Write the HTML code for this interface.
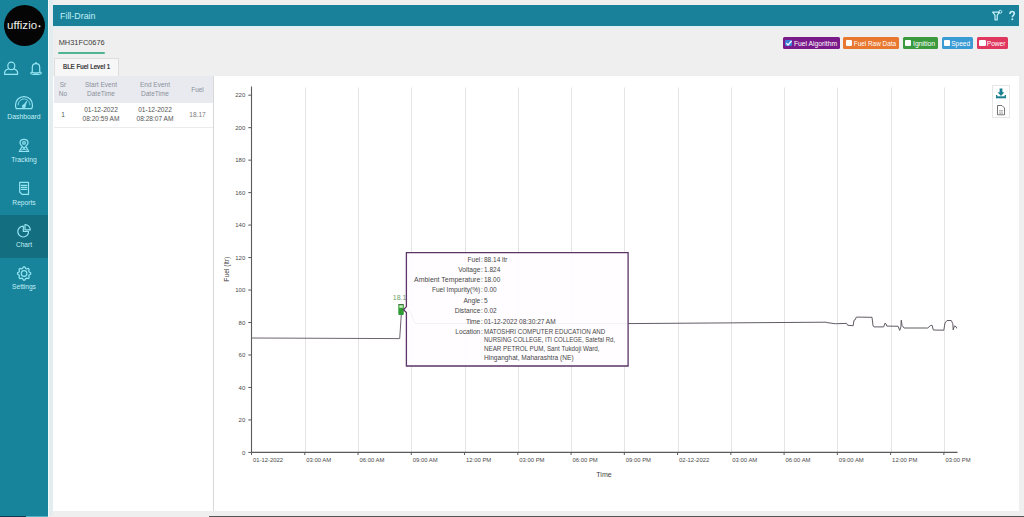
<!DOCTYPE html>
<html><head><meta charset="utf-8">
<style>
*{margin:0;padding:0;box-sizing:border-box}
html,body{width:1024px;height:517px;overflow:hidden;background:#efefef;font-family:"Liberation Sans",sans-serif;position:relative}
.a{position:absolute;white-space:nowrap}
.nav{position:absolute;left:0;width:48px;text-align:center;color:#c2eff7;line-height:8px}
.lg{position:absolute;top:37px;height:12.2px;border-radius:1.5px;color:#fff;font-size:6.6px;line-height:12px;white-space:nowrap}
.lg .cb{position:absolute;top:2.7px;width:6.5px;height:6.5px;background:#fff;border-radius:1px}
.lg span{position:absolute;top:0.8px}
.th{position:absolute;color:#8b909a;font-size:6.5px;line-height:9px;text-align:center;white-space:nowrap}
.td{position:absolute;color:#555;font-size:6.6px;line-height:8.7px;text-align:center;white-space:nowrap}
.tl{position:absolute;font-size:6.6px;color:#474747;line-height:8px;white-space:nowrap;text-align:right;width:120px}
.tv{position:absolute;left:484px;font-size:6.5px;color:#474747;line-height:8px;white-space:nowrap}
</style></head>
<body>
<div class="a" style="left:0;top:0;width:48px;height:516px;background:#17849b"></div>
<div class="a" style="left:48px;top:0;width:5px;height:516px;background:#e3edf0"></div>
<div class="a" style="left:48px;top:0;width:1px;height:516px;background:#f2fafc"></div>
<div class="a" style="left:3.8px;top:4.5px;width:41px;height:41px;border-radius:50%;background:#050505"></div>
<div class="a" style="left:7px;top:19.1px;color:#efefef;font-size:11.5px;line-height:12px;letter-spacing:0.05px">uffizio</div>
<svg class="a" style="left:37px;top:24px" width="5" height="5"><circle cx="2.5" cy="2.3" r="1" fill="#efefef"/></svg>
<div class="a" style="left:0;top:214.5px;width:48px;height:43px;background:#136e80"></div>
<div class="nav" style="top:112.6px;font-size:6.8px">Dashboard</div>
<div class="nav" style="top:156.4px;font-size:6.75px">Tracking</div>
<div class="nav" style="top:198.9px;font-size:6.65px">Reports</div>
<div class="nav" style="top:240.9px;font-size:6.55px">Chart</div>
<div class="nav" style="top:283.4px;font-size:6.6px">Settings</div>
<svg class="a" style="left:0;top:0" width="48" height="300" viewBox="0 0 48 300" fill="none" stroke="#96e5f3" stroke-width="1.2" stroke-linejoin="round" stroke-linecap="round">
<ellipse cx="11.3" cy="65.9" rx="3.5" ry="3.7"/>
<path d="M8.7 68.9 C6 69.6 4.6 71 4.6 73 V74.3 H17.6 V73 C17.6 71 16.2 69.6 13.6 68.9"/>
<circle cx="36" cy="62.9" r="0.9" fill="#96e5f3" stroke="none"/>
<path d="M32.3 71.6 V67.5 C32.3 65.2 33.9 63.7 36 63.7 C38.1 63.7 39.7 65.2 39.7 67.5 V71.6 C39.7 72.2 41.3 72.4 41.3 73.2 C41.3 74 39 74.4 36 74.4 C33 74.4 30.7 74 30.7 73.2 C30.7 72.4 32.3 72.2 32.3 71.6Z"/>
<path d="M32.6 72.5 Q36 73.5 39.4 72.5" stroke-width="1.3"/>
<path d="M16.2 108.6 C15.7 107.6 15.5 106.4 15.5 105 C15.5 100.3 19.2 96.6 24 96.6 C28.8 96.6 32.5 100.3 32.5 105 C32.5 106.4 32.3 107.6 31.8 108.6 Z"/>
<path d="M18.2 104.8 C18.2 101.6 20.8 99 24 99 C27.2 99 29.8 101.6 29.8 104.8" stroke-dasharray="1.6 0.9" stroke-width="0.9"/>
<path d="M22.6 106.2 L26.8 101.2 L24.9 106.6 Z" fill="#96e5f3" stroke-width="0.7"/>
<circle cx="23.8" cy="106.4" r="1.2"/>
<path d="M24 148.6 C22.3 146.4 20 144.6 20 142.9 C20 140.7 21.8 139.3 24 139.3 C26.2 139.3 28 140.7 28 142.9 C28 144.6 25.7 146.4 24 148.6Z"/>
<circle cx="24" cy="142.9" r="1.3"/>
<path d="M21.6 147.3 L19.3 151.5 H28.7 L26.4 147.3"/>
<path d="M21.3 150 Q24 148.2 26.7 150" stroke-width="0.9"/>
<path d="M19.7 182.4 H28.5 V194.4 H22.1 L19.7 192 Z"/>
<path d="M21.4 185.4 H26.8 M21.4 187.4 H26.8 M21.4 189.4 H26.8" stroke-width="1.2"/>
<path d="M23.3 226.2 A5.4 5.4 0 1 0 28.6 231.5 H23.3 Z"/>
<path d="M25 224.7 A5.2 5.2 0 0 1 30.3 229.9 H25 Z"/>
<path d="M23.45 266.93 L24.75 266.93 L25.64 268.43 L26.60 268.83 L28.29 268.40 L29.20 269.31 L28.77 271.00 L29.17 271.96 L30.67 272.85 L30.67 274.15 L29.17 275.04 L28.77 276.00 L29.20 277.69 L28.29 278.60 L26.60 278.17 L25.64 278.57 L24.75 280.07 L23.45 280.07 L22.56 278.57 L21.60 278.17 L19.91 278.60 L19.00 277.69 L19.43 276.00 L19.03 275.04 L17.53 274.15 L17.53 272.85 L19.03 271.96 L19.43 271.00 L19.00 269.31 L19.91 268.40 L21.60 268.83 L22.56 268.43Z"/>
<circle cx="24.1" cy="273.5" r="2.8"/>
</svg>
<div class="a" style="left:53px;top:5px;width:966px;height:20.5px;background:#19829a"></div>
<div class="a" style="left:53px;top:25.5px;width:966px;height:4px;background:linear-gradient(#def0f3,#efefef)"></div>
<div class="a" style="left:59.7px;top:10px;color:#c0eef7;font-size:9.6px;line-height:11px;transform:scaleX(0.925);transform-origin:0 0">Fill-Drain</div>
<div class="a" style="left:58.7px;top:38px;font-size:7.4px;color:#3a3a3a;line-height:9px">MH31FC0676</div>
<div class="a" style="left:58px;top:52.3px;width:47.3px;height:2px;background:#52b592;border-radius:1px"></div>
<div class="a" style="left:54px;top:58px;width:65px;height:18px;background:#f7f7f7;border:1px solid #dedede;border-bottom:none"></div>
<div class="a" style="left:62.5px;top:61.7px;font-size:7px;color:#222;line-height:9px;transform:scaleX(0.885);-webkit-text-stroke:0.2px #222;transform-origin:0 0">BLE Fuel Level 1</div>
<div class="lg" style="left:783.3px;width:56.7px;background:#7a1a8a"><div class="cb" style="left:2.1px;background:#3d7fd8"></div><span style="left:10.6px;font-size:6.75px">Fuel Algorithm</span></div>
<div class="lg" style="left:843.1px;width:55.8px;background:#e8772f"><div class="cb" style="left:2.7px;background:#fff"></div><span style="left:10.7px;font-size:6.4px">Fuel Raw Data</span></div>
<div class="lg" style="left:902.6px;width:35.4px;background:#3a9a3d"><div class="cb" style="left:2.2px;background:#fff"></div><span style="left:10.4px;font-size:6.9px">Ignition</span></div>
<div class="lg" style="left:941.6px;width:31.5px;background:#3b9bd4"><div class="cb" style="left:2.2px;background:#fff"></div><span style="left:9.6px;font-size:6.55px">Speed</span></div>
<div class="lg" style="left:976.6px;width:31.4px;background:#e0375f"><div class="cb" style="left:2.6px;background:#fff"></div><span style="left:10.2px;font-size:6.6px">Power</span></div>
<svg class="a" style="left:785px;top:39.2px" width="8" height="8" viewBox="0 0 8 8"><path d="M1.3 4.2 L3.1 6 L6.6 1.8" fill="none" stroke="#fff" stroke-width="1.3"/></svg>
<div class="a" style="left:53px;top:76px;width:966px;height:435px;background:#fff"></div>
<div class="a" style="left:54px;top:76px;width:159px;height:26.5px;background:#e8eaf0"></div>
<div class="a" style="left:213px;top:76px;width:1px;height:435px;background:#d8d8d8"></div>
<div class="a" style="left:54px;top:126.5px;width:159px;height:1px;background:#ececec"></div>
<div class="th" style="left:55px;top:79.7px;width:16px">Sr<br>No</div>
<div class="th" style="left:76px;top:79.7px;width:50px">Start Event<br>DateTime</div>
<div class="th" style="left:130px;top:79.7px;width:50px">End Event<br>DateTime</div>
<div class="th" style="left:185px;top:84.8px;width:25px">Fuel</div>
<div class="td" style="left:55px;top:111px;width:16px">1</div>
<div class="td" style="left:76px;top:106.2px;width:50px">01-12-2022<br>08:20:59 AM</div>
<div class="td" style="left:130px;top:106.2px;width:50px">01-12-2022<br>08:28:07 AM</div>
<div class="td" style="left:185px;top:111.3px;width:25px;color:#7a7a7a">18.17</div>
<div class="a" style="left:992px;top:85px;width:17.5px;height:33px;border:1px solid #e6e6e6;background:#fff"></div>
<div class="a" style="left:0;top:516px;width:26px;height:1px;background:#0d3d4f"></div>
<div class="a" style="left:26px;top:516px;width:22px;height:1px;background:#55b3c4"></div>
<div class="a" style="left:209px;top:516px;width:815px;height:1px;background:#555"></div>
<svg class="a" style="left:0;top:0" width="1024" height="517" viewBox="0 0 1024 517">
<line x1="305.50" y1="87.5" x2="305.50" y2="452" stroke="#e4e4e4" stroke-width="1"/>
<line x1="358.50" y1="87.5" x2="358.50" y2="452" stroke="#e4e4e4" stroke-width="1"/>
<line x1="411.50" y1="87.5" x2="411.50" y2="452" stroke="#e4e4e4" stroke-width="1"/>
<line x1="465.50" y1="87.5" x2="465.50" y2="452" stroke="#e4e4e4" stroke-width="1"/>
<line x1="518.50" y1="87.5" x2="518.50" y2="452" stroke="#e4e4e4" stroke-width="1"/>
<line x1="571.50" y1="87.5" x2="571.50" y2="452" stroke="#e4e4e4" stroke-width="1"/>
<line x1="624.50" y1="87.5" x2="624.50" y2="452" stroke="#e4e4e4" stroke-width="1"/>
<line x1="678.50" y1="87.5" x2="678.50" y2="452" stroke="#e4e4e4" stroke-width="1"/>
<line x1="731.50" y1="87.5" x2="731.50" y2="452" stroke="#e4e4e4" stroke-width="1"/>
<line x1="784.50" y1="87.5" x2="784.50" y2="452" stroke="#e4e4e4" stroke-width="1"/>
<line x1="837.50" y1="87.5" x2="837.50" y2="452" stroke="#e4e4e4" stroke-width="1"/>
<line x1="891.50" y1="87.5" x2="891.50" y2="452" stroke="#e4e4e4" stroke-width="1"/>
<line x1="944.50" y1="87.5" x2="944.50" y2="452" stroke="#e4e4e4" stroke-width="1"/>
<line x1="251.5" y1="86.5" x2="251.5" y2="452.4" stroke="#5a5a5a" stroke-width="1.1"/>
<line x1="251.5" y1="452.4" x2="957.5" y2="452.4" stroke="#5a5a5a" stroke-width="1.1"/>
<line x1="248.3" y1="452.40" x2="251.5" y2="452.40" stroke="#5a5a5a" stroke-width="1"/>
<text x="245.3" y="454.50" text-anchor="end" font-size="6" fill="#4a4a4a">0</text>
<line x1="248.3" y1="419.93" x2="251.5" y2="419.93" stroke="#5a5a5a" stroke-width="1"/>
<text x="245.3" y="422.03" text-anchor="end" font-size="6" fill="#4a4a4a">20</text>
<line x1="248.3" y1="387.45" x2="251.5" y2="387.45" stroke="#5a5a5a" stroke-width="1"/>
<text x="245.3" y="389.55" text-anchor="end" font-size="6" fill="#4a4a4a">40</text>
<line x1="248.3" y1="354.98" x2="251.5" y2="354.98" stroke="#5a5a5a" stroke-width="1"/>
<text x="245.3" y="357.08" text-anchor="end" font-size="6" fill="#4a4a4a">60</text>
<line x1="248.3" y1="322.51" x2="251.5" y2="322.51" stroke="#5a5a5a" stroke-width="1"/>
<text x="245.3" y="324.61" text-anchor="end" font-size="6" fill="#4a4a4a">80</text>
<line x1="248.3" y1="290.04" x2="251.5" y2="290.04" stroke="#5a5a5a" stroke-width="1"/>
<text x="245.3" y="292.14" text-anchor="end" font-size="6" fill="#4a4a4a">100</text>
<line x1="248.3" y1="257.56" x2="251.5" y2="257.56" stroke="#5a5a5a" stroke-width="1"/>
<text x="245.3" y="259.66" text-anchor="end" font-size="6" fill="#4a4a4a">120</text>
<line x1="248.3" y1="225.09" x2="251.5" y2="225.09" stroke="#5a5a5a" stroke-width="1"/>
<text x="245.3" y="227.19" text-anchor="end" font-size="6" fill="#4a4a4a">140</text>
<line x1="248.3" y1="192.62" x2="251.5" y2="192.62" stroke="#5a5a5a" stroke-width="1"/>
<text x="245.3" y="194.72" text-anchor="end" font-size="6" fill="#4a4a4a">160</text>
<line x1="248.3" y1="160.15" x2="251.5" y2="160.15" stroke="#5a5a5a" stroke-width="1"/>
<text x="245.3" y="162.25" text-anchor="end" font-size="6" fill="#4a4a4a">180</text>
<line x1="248.3" y1="127.67" x2="251.5" y2="127.67" stroke="#5a5a5a" stroke-width="1"/>
<text x="245.3" y="129.77" text-anchor="end" font-size="6" fill="#4a4a4a">200</text>
<line x1="248.3" y1="95.20" x2="251.5" y2="95.20" stroke="#5a5a5a" stroke-width="1"/>
<text x="245.3" y="97.30" text-anchor="end" font-size="6" fill="#4a4a4a">220</text>
<line x1="251.50" y1="452.4" x2="251.50" y2="455" stroke="#5a5a5a" stroke-width="1"/>
<text x="253.00" y="461.8" font-size="5.9" fill="#4a4a4a">01-12-2022</text>
<line x1="304.76" y1="452.4" x2="304.76" y2="455" stroke="#5a5a5a" stroke-width="1"/>
<text x="306.26" y="461.8" font-size="5.9" fill="#4a4a4a">03:00 AM</text>
<line x1="358.02" y1="452.4" x2="358.02" y2="455" stroke="#5a5a5a" stroke-width="1"/>
<text x="359.52" y="461.8" font-size="5.9" fill="#4a4a4a">06:00 AM</text>
<line x1="411.28" y1="452.4" x2="411.28" y2="455" stroke="#5a5a5a" stroke-width="1"/>
<text x="412.78" y="461.8" font-size="5.9" fill="#4a4a4a">09:00 AM</text>
<line x1="464.54" y1="452.4" x2="464.54" y2="455" stroke="#5a5a5a" stroke-width="1"/>
<text x="466.04" y="461.8" font-size="5.9" fill="#4a4a4a">12:00 PM</text>
<line x1="517.80" y1="452.4" x2="517.80" y2="455" stroke="#5a5a5a" stroke-width="1"/>
<text x="519.30" y="461.8" font-size="5.9" fill="#4a4a4a">03:00 PM</text>
<line x1="571.06" y1="452.4" x2="571.06" y2="455" stroke="#5a5a5a" stroke-width="1"/>
<text x="572.56" y="461.8" font-size="5.9" fill="#4a4a4a">06:00 PM</text>
<line x1="624.32" y1="452.4" x2="624.32" y2="455" stroke="#5a5a5a" stroke-width="1"/>
<text x="625.82" y="461.8" font-size="5.9" fill="#4a4a4a">09:00 PM</text>
<line x1="677.58" y1="452.4" x2="677.58" y2="455" stroke="#5a5a5a" stroke-width="1"/>
<text x="679.08" y="461.8" font-size="5.9" fill="#4a4a4a">02-12-2022</text>
<line x1="730.84" y1="452.4" x2="730.84" y2="455" stroke="#5a5a5a" stroke-width="1"/>
<text x="732.34" y="461.8" font-size="5.9" fill="#4a4a4a">03:00 AM</text>
<line x1="784.10" y1="452.4" x2="784.10" y2="455" stroke="#5a5a5a" stroke-width="1"/>
<text x="785.60" y="461.8" font-size="5.9" fill="#4a4a4a">06:00 AM</text>
<line x1="837.36" y1="452.4" x2="837.36" y2="455" stroke="#5a5a5a" stroke-width="1"/>
<text x="838.86" y="461.8" font-size="5.9" fill="#4a4a4a">09:00 AM</text>
<line x1="890.62" y1="452.4" x2="890.62" y2="455" stroke="#5a5a5a" stroke-width="1"/>
<text x="892.12" y="461.8" font-size="5.9" fill="#4a4a4a">12:00 PM</text>
<line x1="943.88" y1="452.4" x2="943.88" y2="455" stroke="#5a5a5a" stroke-width="1"/>
<text x="945.38" y="461.8" font-size="5.9" fill="#4a4a4a">03:00 PM</text>
<text x="604" y="477" text-anchor="middle" font-size="7" fill="#444">Time</text>
<text transform="translate(229.2,269.2) rotate(-90)" text-anchor="middle" font-size="6.7" fill="#444">Fuel (ltr)</text>
<polyline points="251.5,338.0 399.7,338.6 401.3,314.5" fill="none" stroke="#6c6470" stroke-width="1"/>
<polyline points="401.30,309.00 406.00,309.00 410.00,311.00 415.00,323.50 628.00,323.60 826.00,322.20 827.00,322.60 835.60,323.75 846.60,323.40 847.70,325.30 853.20,325.70 854.00,320.20 855.20,319.80 856.30,317.10 872.00,317.30 873.10,326.10 873.90,326.90 883.70,326.90 884.80,323.40 886.00,323.75 886.80,326.10 898.10,326.25 899.70,330.40 900.90,326.90 901.25,320.20 902.00,325.30 904.00,328.00 927.80,328.00 930.20,325.70 932.10,325.30 933.30,330.00 943.80,330.20 945.00,323.00 947.00,320.50 951.25,320.50 952.80,323.75 953.20,330.00 954.40,325.90 956.30,326.90 956.70,328.40" fill="none" stroke="#625b66" stroke-width="1"/>
<text x="392.8" y="299.8" font-size="7" fill="#6a9f6a">18.1</text>
<rect x="398.3" y="304.3" width="5.5" height="10.6" rx="0.8" fill="#2e9a33"/>
<rect x="398.3" y="304.3" width="5.5" height="0.9" fill="#3b5a3b"/>
<rect x="399.3" y="305.3" width="3.5" height="2.5" fill="#c4f2b8"/>
</svg>
<svg class="a" style="left:995px;top:87px" width="12" height="13" viewBox="0 0 12 13"><path d="M4.6 1.5h2.8v3.8h2L6 9 2.6 5.3h2z" fill="#1a7f92"/><rect x="1" y="9.3" width="10" height="2" fill="#1a7f92"/><rect x="1" y="8" width="1.3" height="2" fill="#1a7f92"/><rect x="9.7" y="8" width="1.3" height="2" fill="#1a7f92"/></svg>
<svg class="a" style="left:996px;top:104px" width="10" height="12" viewBox="0 0 10 12"><path d="M1.5 1.5h4.5l2.5 2.5v6.8h-7z" fill="#fff" stroke="#666" stroke-width="0.9"/><path d="M3 6.5h4M3 8h4M3 9.3h4" stroke="#999" stroke-width="0.7"/></svg>
<svg class="a" style="left:0;top:0" width="1024" height="517" viewBox="0 0 1024 517"><path d="M406.4 252.6 H628.1 V366 H406.4 V312.6 L403.5 309.7 L406.4 306.6 Z" fill="rgba(255,253,255,0.93)" stroke="#5b3565" stroke-width="1.3"/></svg>
<div class="tl" style="left:360.3px;top:255.9px">Fuel</div>
<div class="tv" style="left:480.9px;top:255.9px">:</div>
<div class="tv" style="top:255.9px">88.14 ltr</div>
<div class="tl" style="left:360.3px;top:266.2px">Voltage</div>
<div class="tv" style="left:480.9px;top:266.2px">:</div>
<div class="tv" style="top:266.2px">1.824</div>
<div class="tl" style="left:360.3px;top:276.3px;font-size:6.95px">Ambient Temperature</div>
<div class="tv" style="left:480.9px;top:276.3px">:</div>
<div class="tv" style="top:276.3px">18.00</div>
<div class="tl" style="left:360.3px;top:286.4px">Fuel Impurity(%)</div>
<div class="tv" style="left:480.9px;top:286.4px">:</div>
<div class="tv" style="top:286.4px">0.00</div>
<div class="tl" style="left:360.3px;top:296.5px">Angle</div>
<div class="tv" style="left:480.9px;top:296.5px">:</div>
<div class="tv" style="top:296.5px">5</div>
<div class="tl" style="left:360.3px;top:306.8px">Distance</div>
<div class="tv" style="left:480.9px;top:306.8px">:</div>
<div class="tv" style="top:306.8px">0.02</div>
<div class="tl" style="left:360.3px;top:317.5px">Time</div>
<div class="tv" style="left:480.9px;top:317.5px">:</div>
<div class="tv" style="top:317.5px">01-12-2022 08:30:27 AM</div>
<div class="tl" style="left:360.3px;top:327.6px">Location</div>
<div class="tv" style="left:480.9px;top:327.6px">:</div>
<div class="tv" style="top:327.6px;font-size:6.6px;transform:scaleX(0.937);transform-origin:0 0">MATOSHRI COMPUTER EDUCATION AND</div>
<div class="tv" style="top:336.1px;font-size:6.6px;transform:scaleX(0.91);transform-origin:0 0">NURSING COLLEGE, ITI COLLEGE, Satefal Rd,</div>
<div class="tv" style="top:345.2px;font-size:6.6px;transform:scaleX(0.947);transform-origin:0 0">NEAR PETROL PUM, Sant Tukdoji Ward,</div>
<div class="tv" style="top:354.1px;font-size:6.6px;transform:scaleX(0.998);transform-origin:0 0">Hinganghat, Maharashtra (NE)</div>
<svg class="a" style="left:0;top:0" width="1024" height="30" viewBox="0 0 1024 30"><path d="M1010 14 C1010 12.2 1011 11.5 1012.2 11.5 C1013.5 11.5 1014.3 12.3 1014.3 13.5 C1014.3 15.2 1012.3 15.3 1012.3 17.3" fill="none" stroke="#c4eff7" stroke-width="1.6"/><circle cx="1012.3" cy="19.3" r="1" fill="#c4eff7"/><path d="M992.6 12.2 H999.6 L997.2 15.2 V19.8 H995 V15.2 Z" fill="none" stroke="#c4eff7" stroke-width="1.2" stroke-linejoin="round"/><circle cx="1000.3" cy="11.8" r="1.5" fill="none" stroke="#c4eff7" stroke-width="0.9"/></svg>
</body></html>
